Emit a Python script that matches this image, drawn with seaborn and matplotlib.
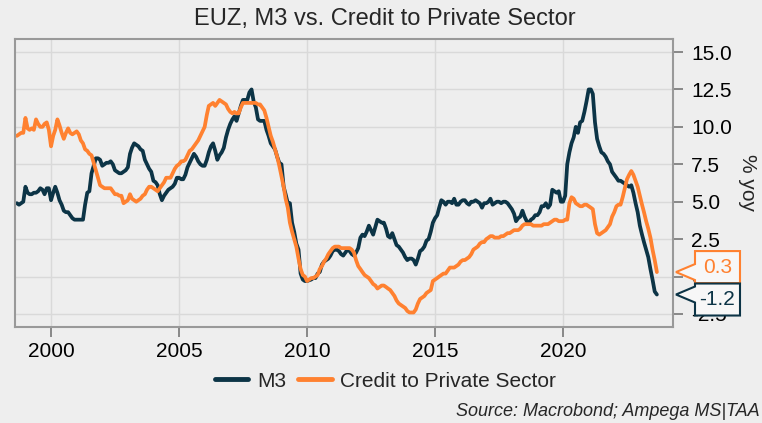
import pandas as pd
import seaborn as sns
import matplotlib.pyplot as plt
import matplotlib.dates as mdates
from matplotlib.patches import Polygon
from matplotlib.transforms import IdentityTransform

# monthly yoy growth, Sep 1998 .. Sep 2023
start_month = '1998-09-01'
end_month = '2023-09-01'

m3_growth = [
    4.9, 4.8, 4.9, 5.0,                                                  # 1998 Sep-Dec
    6.0, 5.6, 5.5, 5.5, 5.6, 5.6, 5.7, 5.9, 5.8, 5.5, 5.9, 5.9,          # 1999
    5.1, 5.6, 6.0, 5.6, 5.1, 4.8, 4.4, 4.3, 4.3, 4.1, 3.9, 3.8,          # 2000
    3.8, 3.8, 3.8, 3.8, 4.8, 5.6, 5.7, 6.9, 7.4, 7.9, 7.9, 7.8,          # 2001
    7.4, 7.5, 7.6, 7.6, 7.7, 7.5, 7.1, 7.0, 6.9, 6.9, 7.0, 7.1,          # 2002
    7.3, 8.2, 8.6, 8.9, 8.8, 8.7, 8.5, 8.4, 7.8, 7.5, 7.2, 7.0,          # 2003
    6.4, 6.3, 6.1, 5.5, 5.1, 5.4, 5.6, 5.8, 5.9, 6.0, 6.2, 6.6,          # 2004
    6.6, 6.5, 6.5, 6.8, 7.3, 7.6, 7.9, 8.2, 8.0, 7.7, 7.5, 7.4,          # 2005
    7.4, 7.8, 8.3, 8.7, 8.9, 8.4, 7.8, 8.1, 8.3, 8.6, 9.3, 9.8,          # 2006
    10.2, 10.5, 10.7, 10.4, 10.9, 11.4, 11.8, 11.8, 11.8, 12.3, 12.5, 11.7,  # 2007
    11.3, 10.5, 10.4, 10.4, 10.4, 9.8, 9.4, 8.9, 8.7, 8.5, 8.0, 7.6,     # 2008
    7.5, 6.0, 5.5, 4.9, 4.9, 3.6, 3.0, 2.2, 1.8, 0.2, -0.2, -0.3,        # 2009
    -0.3, -0.25, -0.2, -0.1, -0.1, 0.2, 0.3, 0.8, 1.0, 1.1, 1.2, 1.4,    # 2010
    1.7, 1.8, 1.8, 1.7, 1.5, 1.4, 1.6, 1.8, 1.7, 1.5, 1.4, 1.6,          # 2011
    1.9, 2.6, 2.8, 2.7, 3.0, 3.4, 3.1, 2.8, 3.3, 3.8, 3.7, 3.6,          # 2012
    3.6, 3.2, 2.7, 2.6, 2.9, 2.5, 2.1, 2.0, 1.8, 1.6, 1.3, 1.1,          # 2013
    1.2, 1.2, 1.1, 0.8, 1.2, 1.7, 1.8, 2.0, 2.4, 2.5, 3.0, 3.6,          # 2014
    3.9, 4.1, 4.6, 5.1, 5.0, 4.8, 5.0, 5.0, 4.9, 5.2, 4.8, 4.8,          # 2015
    5.0, 5.1, 5.1, 4.9, 4.8, 5.0, 5.0, 5.1, 5.0, 4.9, 4.6, 4.9,          # 2016
    4.9, 5.0, 5.2, 4.8, 4.9, 5.0, 5.0, 4.9, 5.0, 5.0, 4.9, 4.7,          # 2017
    4.5, 4.2, 3.7, 3.9, 4.0, 4.4, 4.0, 3.7, 3.6, 3.8, 3.9, 4.1,          # 2018
    4.1, 4.3, 4.7, 4.7, 4.9, 4.6, 4.8, 5.8, 5.7, 5.6, 5.7, 5.0,          # 2019
    5.0, 5.4, 7.5, 8.3, 8.9, 9.3, 10.0, 9.6, 10.3, 10.4, 11.0, 11.7,     # 2020
    12.5, 12.5, 12.2, 10.3, 9.2, 8.7, 8.3, 8.2, 8.0, 7.7, 7.5, 7.0,      # 2021
    6.8, 6.6, 6.4, 6.4, 6.3, 6.2, 6.1, 6.0, 6.1, 5.6, 4.9, 4.3,          # 2022
    3.4, 2.8, 2.3, 1.8, 1.3, 0.5, -0.2, -1.0, -1.2,                      # 2023 Jan-Sep
]

credit_growth = [
    9.4, 9.5, 9.6, 9.6,                                                  # 1998 Sep-Dec
    10.6, 9.9, 9.8, 9.9, 9.8, 10.5, 10.2, 10.0, 10.0, 10.2, 10.3, 9.8,   # 1999
    8.7, 9.4, 9.8, 10.5, 10.1, 9.6, 9.2, 9.6, 9.9, 9.6, 9.5, 9.6,        # 2000
    9.7, 9.5, 9.1, 8.9, 8.5, 8.4, 8.2, 8.1, 7.6, 7.1, 6.6, 6.1,          # 2001
    6.0, 5.9, 5.9, 5.9, 5.9, 5.7, 5.5, 5.5, 5.4, 5.4, 4.9, 5.0,          # 2002
    5.1, 5.5, 5.2, 5.1, 5.0, 5.1, 5.2, 5.4, 5.5, 5.8, 6.0, 6.0,          # 2003
    5.9, 5.8, 5.7, 5.9, 6.1, 6.3, 6.6, 6.6, 6.6, 6.9, 7.2, 7.4,          # 2004
    7.5, 7.7, 7.7, 7.8, 8.1, 8.4, 8.5, 8.7, 8.9, 9.1, 9.4, 9.7,          # 2005
    10.0, 10.8, 11.4, 11.5, 11.6, 11.4, 11.6, 11.8, 11.7, 11.6, 11.5, 11.2,  # 2006
    11.0, 10.9, 11.0, 10.9, 10.9, 11.3, 11.6, 11.6, 11.6, 11.6, 11.6, 11.6,  # 2007
    11.6, 11.5, 11.5, 11.3, 11.1, 10.6, 10.0, 9.4, 9.0, 8.5, 8.0, 7.4,   # 2008
    6.7, 6.0, 5.2, 4.6, 3.6, 3.0, 2.5, 2.0, 1.2, 0.5, 0.1, 0.0,          # 2009
    -0.3, -0.2, -0.1, -0.1, 0.0, 0.1, 0.5, 0.7, 1.0, 1.2, 1.5, 1.7,      # 2010
    1.9, 2.0, 2.0, 2.0, 1.9, 1.9, 1.9, 1.9, 1.9, 1.8, 1.6, 1.1,          # 2011
    0.7, 0.5, 0.3, 0.1, 0.0, -0.1, -0.3, -0.5, -0.6, -0.8, -0.7, -0.6,   # 2012
    -0.6, -0.7, -0.8, -0.9, -1.1, -1.3, -1.6, -1.8, -1.9, -2.0, -2.1, -2.3,  # 2013
    -2.4, -2.4, -2.4, -2.2, -1.8, -1.5, -1.4, -1.3, -1.1, -1.0, -0.9, -0.3,  # 2014
    -0.2, -0.1, 0.0, 0.1, 0.2, 0.2, 0.4, 0.6, 0.6, 0.6, 0.7, 0.8,        # 2015
    1.0, 1.1, 1.1, 1.2, 1.3, 1.5, 1.8, 1.9, 2.0, 2.2, 2.3, 2.3,          # 2016
    2.5, 2.6, 2.7, 2.7, 2.6, 2.6, 2.6, 2.7, 2.7, 2.8, 2.9, 2.9,          # 2017
    3.0, 3.1, 3.1, 3.1, 3.2, 3.4, 3.5, 3.5, 3.5, 3.5, 3.4, 3.4,          # 2018
    3.4, 3.4, 3.4, 3.5, 3.5, 3.5, 3.6, 3.7, 3.8, 3.8, 3.7, 3.7,          # 2019
    3.7, 3.8, 3.8, 4.9, 5.3, 5.2, 4.9, 4.8, 4.7, 4.7, 4.8, 4.8,          # 2020
    4.7, 4.6, 4.5, 3.5, 2.9, 2.8, 2.9, 3.0, 3.1, 3.3, 3.5, 4.0,          # 2021
    4.3, 4.7, 4.8, 4.8, 5.3, 5.9, 6.5, 6.8, 7.05, 6.8, 6.4, 6.0,         # 2022
    5.4, 4.8, 4.3, 3.7, 3.2, 2.6, 1.8, 1.1, 0.3,                         # 2023 Jan-Sep
]

series_names = ['M3', 'Credit to Private Sector']
colors = {'M3': '#0c3446', 'Credit to Private Sector': '#ff8130'}
y_ticks = [-2.5, 0.0, 2.5, 5.0, 7.5, 10.0, 12.5, 15.0]
x_tick_years = [2000, 2005, 2010, 2015, 2020]

dates = pd.date_range(start_month, end_month, freq='MS')
df = pd.DataFrame({'date': dates, 'M3': m3_growth, 'Credit to Private Sector': credit_growth})
long_df = df.melt(id_vars='date', var_name='series', value_name='value')

bg = '#eeeeee'
sns.set_theme(style='whitegrid', rc={'axes.facecolor': bg, 'figure.facecolor': bg,
                                     'grid.color': '#d9d9d9', 'grid.linewidth': 1.0})
plt.rcParams['font.family'] = ['Liberation Sans', 'DejaVu Sans']

fig = plt.figure(figsize=(7.62, 4.23), dpi=100)
ax = fig.add_axes([15 / 762, 1 - 327 / 423, (673 - 15) / 762, (327 - 39) / 423])

sns.lineplot(data=long_df, x='date', y='value', hue='series', hue_order=series_names,
             palette=colors, linewidth=2.7, ax=ax, legend=True)

ax.set_xlim(pd.Timestamp('1998-08-05'), pd.Timestamp('2024-04-18'))
ax.set_ylim(-3.37, 15.87)
ax.set_xticks([pd.Timestamp(f'{y}-01-01') for y in x_tick_years])
ax.xaxis.set_major_formatter(mdates.DateFormatter('%Y'))
ax.set_yticks(y_ticks)
ax.set_yticklabels([f'{t:.1f}' for t in y_ticks])
ax.yaxis.tick_right()
ax.yaxis.set_label_position('right')
ax.tick_params(axis='both', which='major', labelsize=15, length=7, width=1.2,
               color='#777777', labelcolor='black')
ax.tick_params(axis='x', bottom=True, pad=4)
ax.tick_params(axis='y', right=True, left=False, pad=6)
ax.set_xlabel('')
ax.set_ylabel('% yoy', fontsize=15, rotation=270, labelpad=18)
for sp in ax.spines.values():
    sp.set_visible(True)
    sp.set_color('#999999')
    sp.set_linewidth(1.5)
ax.grid(True, which='major')

handles, labels = ax.get_legend_handles_labels()
ax.get_legend().remove()
for h in handles:
    h.set_linewidth(3.5)
fig.legend(handles, labels, loc='center', bbox_to_anchor=(0.506, 1 - 381 / 423), ncol=2,
           frameon=False, fontsize=15, handlelength=1.6, handletextpad=0.4, columnspacing=0.6)

fig.text(0.505, 1 - 19 / 423, 'EUZ, M3 vs. Credit to Private Sector', ha='center', va='center',
         fontsize=17)
fig.text(0.997, 1 - 411 / 423, 'Source: Macrobond; Ampega MS|TAA', ha='right', va='center',
         fontsize=13, style='italic')


def end_tag(value, color, shift):
    # callout with a pointer at the right edge of the axes
    tip_x = ax.transAxes.transform((1, 0))[0] + 3
    tip_y = ax.transData.transform((0, value))[1]
    x0, x1 = tip_x + 19, tip_x + 64
    cy = tip_y + shift
    y0, y1 = cy - 16, cy + 16
    pa, pb = max(tip_y - 8, y0), min(tip_y + 8, y1)
    verts = [(tip_x, tip_y), (x0, pa), (x0, y0), (x1, y0), (x1, y1), (x0, y1), (x0, pb)]
    poly = Polygon(verts, closed=True, facecolor='#f7f7f7', edgecolor=color, linewidth=1.5,
                   transform=IdentityTransform(), zorder=10, clip_on=False)
    fig.add_artist(poly)
    fig.text((x0 + x1) / 2, cy, f'{value:.1f}', ha='center', va='center', fontsize=15,
             color=color, transform=IdentityTransform(), zorder=11)


end_tag(credit_growth[-1], colors['Credit to Private Sector'], 5)
end_tag(m3_growth[-1], colors['M3'], -5)

fig.savefig('out.png', dpi=100, facecolor=bg)
